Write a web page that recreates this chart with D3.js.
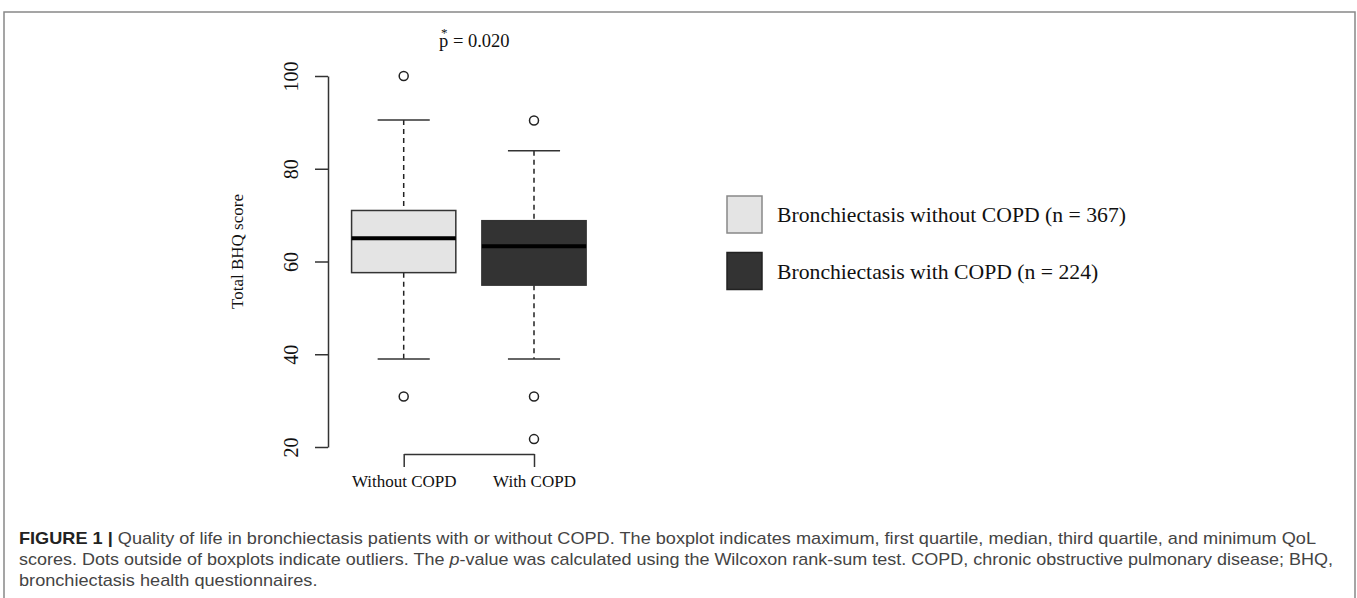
<!DOCTYPE html>
<meta charset="utf-8">
<style>
html, body {
  margin: 0;
  padding: 0;
  background: #fff;
  overflow: hidden;
}
svg {
  display: block;
}
.serif {
  font-family: "Liberation Serif", "Times New Roman", serif;
  fill: #111;
}
.caption {
  font-family: "Liberation Sans", Helvetica, Arial, sans-serif;
  fill: #444;
}
</style>
<svg width="1357" height="598"></svg>
<script src="https://d3js.org/d3.v7.min.js"></script>
<script>

// values
var categories = ["Without COPD", "With COPD"];
var whiskerLow = [39, 39];
var q1 = [57.6, 54.9];
var median = [65, 63.3];
var q3 = [71, 68.8];
var whiskerHigh = [90.5, 83.9];
var outliers = [[100, 30.9], [90.4, 30.9, 21.7]];
var yTicks = [20, 40, 60, 80, 100];
var legendLabels = ["Bronchiectasis without COPD (n = 367)", "Bronchiectasis with COPD (n = 224)"];
var fills = ["#e4e4e4", "#333333"];
var pLabel = "p = 0.020";

var svg = d3.select("svg");

// figure frame
svg.append("path")
    .attr("d", "M4,598V12H1355V598")
    .attr("fill", "none")
    .attr("stroke", "#888")
    .attr("stroke-width", 1.5);

var y = d3.scaleLinear().domain([20, 100]).range([447, 76]);
var x = d3.scalePoint().domain(categories).range([403.7, 534]);
var step = x(categories[1]) - x(categories[0]);
var boxW = step * 0.8;
var capW = step * 0.4;

// y axis
var yAxis = svg.append("g")
    .attr("transform", "translate(328,0)")
    .call(d3.axisLeft(y).tickValues(yTicks).tickSize(13).tickSizeOuter(0));
yAxis.selectAll("path, line").attr("stroke", "#333").attr("stroke-width", 1.5);
yAxis.selectAll("text")
    .attr("class", "serif")
    .attr("font-size", 20)
    .attr("x", null).attr("dy", null)
    .attr("text-anchor", "middle")
    .attr("transform", "translate(-30,0) rotate(-90)");

svg.append("text")
    .attr("class", "serif")
    .attr("font-size", 17)
    .attr("text-anchor", "middle")
    .attr("transform", "translate(243,251.5) rotate(-90)")
    .text("Total BHQ score");

// x axis (drawn as the bracket under the boxes)
var xAxis = svg.append("g")
    .attr("transform", "translate(0,454)")
    .call(d3.axisBottom(x).tickSize(13).tickSizeOuter(0).tickPadding(7.5));
xAxis.selectAll("path, line").attr("stroke", "#333").attr("stroke-width", 1.5);
xAxis.selectAll("text").attr("class", "serif").attr("font-size", 17);

// boxes
var groups = svg.selectAll(".box")
  .data(categories)
  .enter().append("g")
    .attr("class", "box");

groups.append("line")
    .attr("x1", function(d) { return x(d); })
    .attr("x2", function(d) { return x(d); })
    .attr("y1", function(d, i) { return y(whiskerHigh[i]); })
    .attr("y2", function(d, i) { return y(q3[i]); })
    .attr("stroke", "#222").attr("stroke-width", 1.5).attr("stroke-dasharray", "5,4");

groups.append("line")
    .attr("x1", function(d) { return x(d); })
    .attr("x2", function(d) { return x(d); })
    .attr("y1", function(d, i) { return y(q1[i]); })
    .attr("y2", function(d, i) { return y(whiskerLow[i]); })
    .attr("stroke", "#222").attr("stroke-width", 1.5).attr("stroke-dasharray", "5,4");

groups.selectAll(".cap")
  .data(function(d, i) { return [{ c: d, v: whiskerHigh[i] }, { c: d, v: whiskerLow[i] }]; })
  .enter().append("line")
    .attr("class", "cap")
    .attr("x1", function(d) { return x(d.c) - capW / 2; })
    .attr("x2", function(d) { return x(d.c) + capW / 2; })
    .attr("y1", function(d) { return y(d.v); })
    .attr("y2", function(d) { return y(d.v); })
    .attr("stroke", "#333").attr("stroke-width", 1.5);

groups.append("rect")
    .attr("x", function(d) { return x(d) - boxW / 2; })
    .attr("width", boxW)
    .attr("y", function(d, i) { return y(q3[i]); })
    .attr("height", function(d, i) { return y(q1[i]) - y(q3[i]); })
    .attr("fill", function(d, i) { return fills[i]; })
    .attr("stroke", "#333").attr("stroke-width", 1.5);

groups.append("line")
    .attr("x1", function(d) { return x(d) - boxW / 2; })
    .attr("x2", function(d) { return x(d) + boxW / 2; })
    .attr("y1", function(d, i) { return y(median[i]); })
    .attr("y2", function(d, i) { return y(median[i]); })
    .attr("stroke", "#000").attr("stroke-width", 4);

groups.selectAll(".out")
  .data(function(d, i) { return outliers[i].map(function(v) { return { c: d, v: v }; }); })
  .enter().append("circle")
    .attr("class", "out")
    .attr("cx", function(d) { return x(d.c); })
    .attr("cy", function(d) { return y(d.v); })
    .attr("r", 4.5)
    .attr("fill", "none")
    .attr("stroke", "#222").attr("stroke-width", 1.5);

// p value with the star over the p
var pText = svg.append("text")
    .attr("class", "serif")
    .attr("font-size", 18.5)
    .attr("x", 439).attr("y", 47);
pText.append("tspan")
    .attr("x", 441).attr("dy", -10)
    .attr("font-size", 13)
    .text("*");
pText.append("tspan")
    .attr("x", 439).attr("dy", 10)
    .text(pLabel);

// legend
var legend = svg.selectAll(".legend")
  .data(legendLabels)
  .enter().append("g")
    .attr("class", "legend")
    .attr("transform", function(d, i) { return "translate(727," + (196 + i * 56.5) + ")"; });

legend.append("rect")
    .attr("width", 35).attr("height", 37)
    .attr("fill", function(d, i) { return fills[i]; })
    .attr("stroke", function(d, i) { return i ? "#222" : "#888"; })
    .attr("stroke-width", 1.5);

legend.append("text")
    .attr("class", "serif")
    .attr("font-size", 21.7)
    .attr("x", 50).attr("y", 26)
    .text(function(d) { return d; });

// caption
var cap = svg.append("g").attr("class", "caption").attr("font-size", 17);
var line1 = cap.append("text").attr("x", 19).attr("y", 544);
line1.append("tspan").attr("font-weight", "bold").attr("fill", "#222").text("FIGURE 1 | ");
line1.append("tspan").text("Quality of life in bronchiectasis patients with or without COPD. The boxplot indicates maximum, first quartile, median, third quartile, and minimum QoL");
var line2 = cap.append("text").attr("x", 19).attr("y", 565);
line2.append("tspan").text("scores. Dots outside of boxplots indicate outliers. The ");
line2.append("tspan").attr("font-style", "italic").text("p");
line2.append("tspan").text("-value was calculated using the Wilcoxon rank-sum test. COPD, chronic obstructive pulmonary disease; BHQ,");
var line3 = cap.append("text").attr("x", 19).attr("y", 586)
    .text("bronchiectasis health questionnaires.");

// squeeze the caption a little, like the condensed face of the original
var k = 1297 / line1.node().getComputedTextLength();
[line1, line2, line3].forEach(function(t, i) {
  var len = i === 1 ? 1314 : t.node().getComputedTextLength() * k;
  t.attr("textLength", len).attr("lengthAdjust", "spacingAndGlyphs");
});

</script>
